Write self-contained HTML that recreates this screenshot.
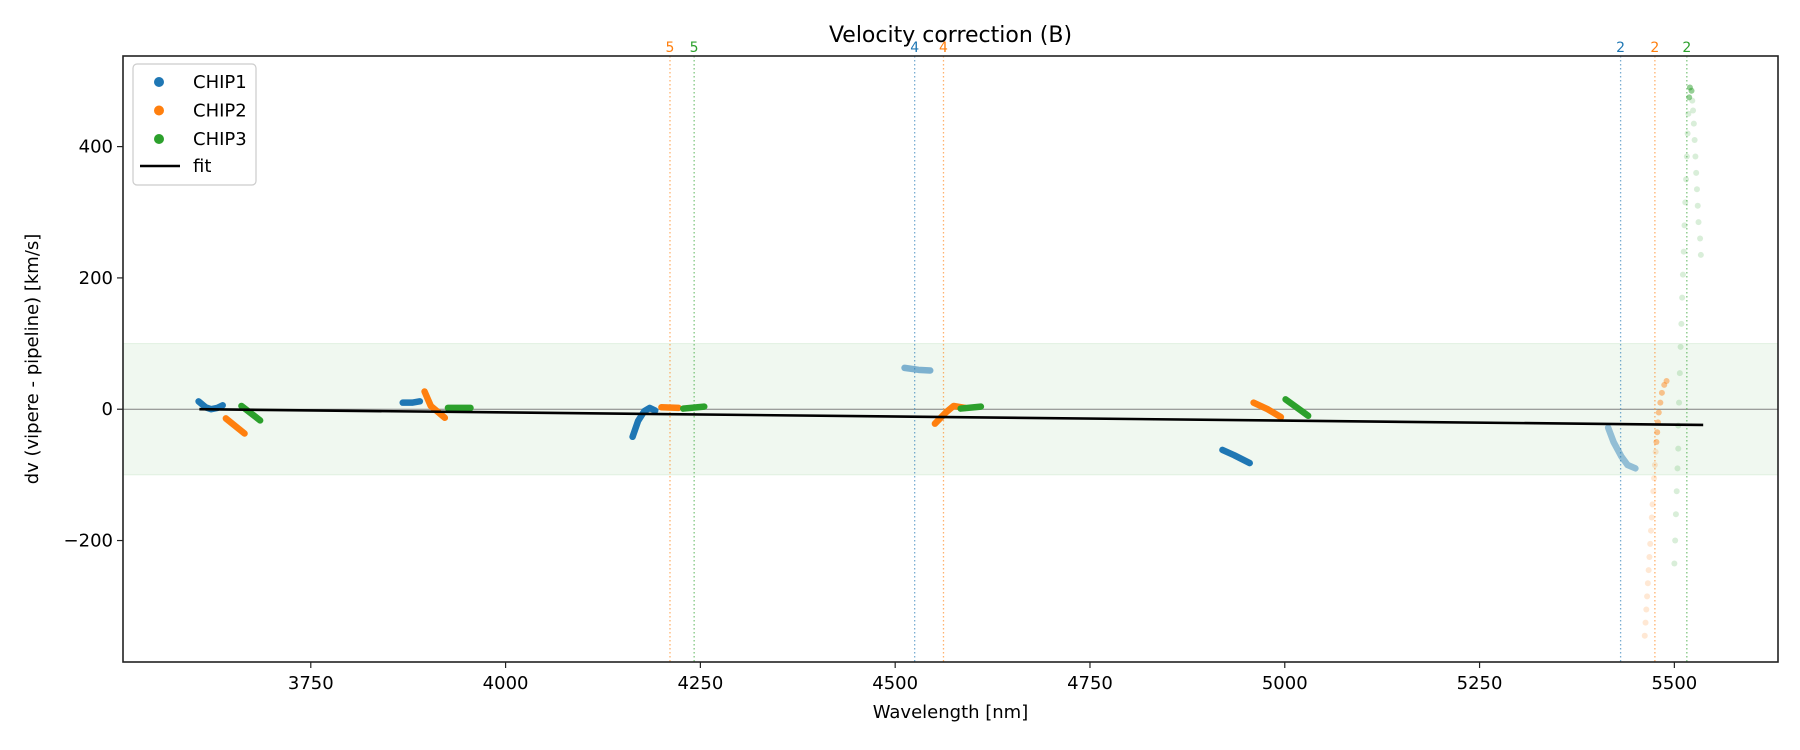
<!DOCTYPE html>
<html><head><meta charset="utf-8"><style>
html,body{margin:0;padding:0;background:#fff;}
svg{display:block;font-family:"DejaVu Sans","Liberation Sans",sans-serif;}
</style></head><body>
<svg id="chart" width="1800" height="750" viewBox="0 0 1800 750" xmlns="http://www.w3.org/2000/svg"></svg>
<script>
const xTicks = [3750, 4000, 4250, 4500, 4750, 5000, 5250, 5500];
const yTicks = [-200, 0, 200, 400];
const chipNames = ['CHIP1', 'CHIP2', 'CHIP3'];
const chipColors = ['#1f77b4', '#ff7f0e', '#2ca02c'];
// dense segments: chip index, alpha, control points [wavelength, dv]
const segChip = [0,1,2, 0,1,2, 0,1,2, 0,1,2, 0,1,2, 0];
const segAlpha = [1,1,1, 1,1,1, 1,1,1, 0.55,1,1, 1,1,1, 0.45];
const segPoints = [
  [[3606,12],[3615,3],[3622,0],[3630,2],[3637,6]],
  [[3641,-14],[3665,-37]],
  [[3661,5],[3685,-17]],
  [[3868,10],[3880,10],[3890,12]],
  [[3896,27],[3904,5],[3922,-13]],
  [[3926,2],[3955,2]],
  [[4163,-42],[4170,-18],[4178,-3],[4185,2],[4192,-2]],
  [[4200,3],[4222,2]],
  [[4228,1],[4255,4]],
  [[4512,63],[4530,60],[4545,59]],
  [[4551,-22],[4565,-5],[4575,5],[4590,2]],
  [[4584,1],[4610,4]],
  [[4920,-62],[4935,-70],[4955,-82]],
  [[4960,10],[4978,0],[4995,-12]],
  [[5001,15],[5015,3],[5030,-10]],
  [[5415,-28],[5422,-50],[5432,-72],[5440,-85],[5450,-90]]
];
// sparse faded points
const orangeSparseW = [5462,5463,5464,5465,5466,5467,5468,5469,5470,5471,5472,5473,5474,5475,5476,5477,5478,5479,5480,5482,5484,5487,5490];
const orangeSparseV = [-345,-325,-305,-285,-265,-245,-225,-205,-185,-165,-145,-125,-105,-85,-65,-50,-35,-20,-5,10,25,37,43];
const greenSparseW = [5500,5501,5502,5503,5504,5505,5505,5506,5507,5508,5509,5510,5511,5512,5513,5514,5515,5516,5517,5518,5519,5520,5522,5523,5524,5525,5526,5527,5528,5529,5530,5531,5533,5534];
const greenSparseV = [-235,-200,-160,-125,-90,-60,-25,10,55,95,130,170,205,240,280,315,350,385,420,450,475,490,485,470,455,435,410,385,360,335,310,285,260,235];
const vlineW = [4211,4242,4525,4562,5431,5475,5516];
const vlineLabel = ['5','5','4','4','2','2','2'];
const vlineChip = [1,2,0,1,0,1,2];
const fitW = [3607, 5537];
const fitV = [0, -24];
const bandV = [-100, 100];

const L=123, R=1778, T=56, B=662;
const xMin=3509, xMax=5633, yMin=-385, yMax=538;
const X = w => L + (w-xMin)/(xMax-xMin)*(R-L);
const Y = v => B - (v-yMin)/(yMax-yMin)*(B-T);
const NS='http://www.w3.org/2000/svg';
const svg=document.getElementById('chart');
function mk(tag, attrs, parent){const e=document.createElementNS(NS,tag);for(const k in attrs)e.setAttribute(k,attrs[k]);(parent||svg).appendChild(e);return e;}

const clip=mk('clipPath',{id:'pc'});mk('rect',{x:L,y:T,width:R-L,height:B-T},clip);
const plot=mk('g',{'clip-path':'url(#pc)'});



const band=mk('rect',{x:L,y:Y(bandV[1]),width:R-L,height:Y(bandV[0])-Y(bandV[1]),fill:'#2ca02c','fill-opacity':0.07,stroke:'#2ca02c','stroke-opacity':0.1},plot);


const zl=mk('line',{x1:L,x2:R,y1:Y(0),y2:Y(0),stroke:'#808080','stroke-width':1},plot);



vlineW.forEach((w,i)=>{
  const l=mk('line',{x1:X(w),x2:X(w),y1:T,y2:B,stroke:chipColors[vlineChip[i]],'stroke-width':1.3,'stroke-dasharray':'1.5 2.5','stroke-opacity':0.6},plot);
  
  
  const t=mk('text',{x:X(w),y:T-4,'text-anchor':'middle','font-size':14,fill:chipColors[vlineChip[i]]});
  t.textContent=vlineLabel[i];
  
  
});

segPoints.forEach((pts,i)=>{
  const p=mk('polyline',{points:pts.map(q=>X(q[0])+','+Y(q[1])).join(' '),fill:'none',stroke:chipColors[segChip[i]],'stroke-width':6.5,'stroke-linecap':'round','stroke-linejoin':'round','stroke-opacity':segAlpha[i]},plot);
  
  
});
orangeSparseW.forEach((w,i)=>{
  const a=orangeSparseV[i]>-60?0.45:0.18;
  const c=mk('circle',{cx:X(w),cy:Y(orangeSparseV[i]),r:3,fill:chipColors[1],'fill-opacity':a},plot);
  
  
});
greenSparseW.forEach((w,i)=>{
  const a=greenSparseV[i]>470?0.5:0.18;
  const c=mk('circle',{cx:X(w),cy:Y(greenSparseV[i]),r:3,fill:chipColors[2],'fill-opacity':a},plot);
  
  
});
const fit=mk('line',{x1:X(fitW[0]),y1:Y(fitV[0]),x2:X(fitW[1]),y2:Y(fitV[1]),stroke:'#000','stroke-width':2.6},plot);



const frame=mk('rect',{x:L,y:T,width:R-L,height:B-T,fill:'none',stroke:'#222','stroke-width':1.6});



xTicks.forEach(v=>{
  const tl=mk('line',{x1:X(v),x2:X(v),y1:B,y2:B+6,stroke:'#222','stroke-width':1.2});
  
  
  const t=mk('text',{x:X(v),y:B+27,'text-anchor':'middle','font-size':18,fill:'#000'});
  t.textContent=v;
  
  
});
yTicks.forEach(v=>{
  const tl=mk('line',{x1:L-6,x2:L,y1:Y(v),y2:Y(v),stroke:'#222','stroke-width':1.2});
  
  
  const t=mk('text',{x:L-10,y:Y(v)+6,'text-anchor':'end','font-size':18,fill:'#000'});
  t.textContent=v<0?'\u2212'+(-v):v;
  
  
});
const xl=mk('text',{x:(L+R)/2,y:B+56,'text-anchor':'middle','font-size':18});
xl.textContent='Wavelength [nm]';


const yl=mk('text',{x:0,y:0,'text-anchor':'middle','font-size':18,transform:`translate(38,${(T+B)/2}) rotate(-90)`});
yl.textContent='dv (vipere - pipeline) [km/s]';


const title=mk('text',{x:(L+R)/2,y:42,'text-anchor':'middle','font-size':22});
title.textContent='Velocity correction (B)';



const lg=mk('g',{});


mk('rect',{x:133,y:64,width:123,height:121,rx:4,fill:'#fff','fill-opacity':0.8,stroke:'#ccc','stroke-width':1.2},lg);
chipNames.forEach((n,i)=>{
  const yy=82+i*28.5;
  const e=mk('g',{},lg);
  
  
  mk('circle',{cx:159,cy:yy,r:5,fill:chipColors[i]},e);
  const t=mk('text',{x:193,y:yy+6,'font-size':18},e);
  t.textContent=n;
});
const fe=mk('g',{},lg);


mk('line',{x1:140,x2:180,y1:166,y2:166,stroke:'#000','stroke-width':2.6},fe);
const ft=mk('text',{x:193,y:172,'font-size':18},fe);ft.textContent='fit';
</script>
</body></html>
